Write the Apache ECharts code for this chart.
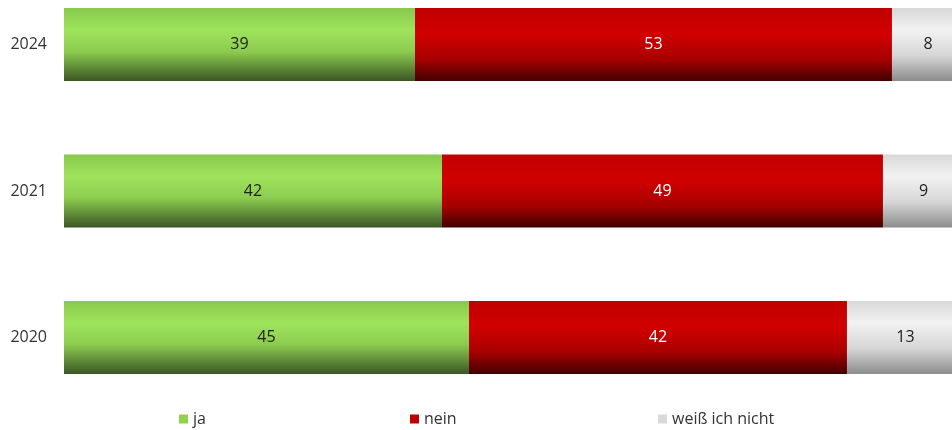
<!DOCTYPE html>
<html><head><meta charset="utf-8">
<script src="https://cdn.jsdelivr.net/npm/echarts@6/dist/echarts.min.js"></script>
<style>html,body{margin:0;padding:0;background:#fff}#c{width:952px;height:430px}</style>
</head><body><div id="c"></div>
<script>
const years = ['2024', '2021', '2020'];
const ja = [39, 42, 45];
const nein = [53, 49, 42];
const weiss = [8, 9, 13];
const names = ['ja', 'nein', 'weiß ich nicht'];

const G = echarts.graphic.LinearGradient;
const font = '"Open Sans", "Noto Sans", sans-serif';
const chart = echarts.init(document.getElementById('c'));
function grad(stops){ return new G(0,0,0,1, stops.map((c)=>({offset:c[0], color:c[1]}))); }
const gGreen = grad([[0,'#88c94c'],[0.3,'#9fe45c'],[0.6,'#8ccb4f'],[1,'#3a5524']]);
const gRed = grad([[0,'#c00000'],[0.35,'#d20000'],[0.7,'#a80000'],[1,'#420000']]);
const gGray = grad([[0,'#d8d8d8'],[0.3,'#f2f2f2'],[0.65,'#d6d6d6'],[1,'#8c8c8c']]);
const lbl = (col) => ({show:true, position:'inside', color:col, fontSize:16, fontFamily:font});
const legTxt = {fontSize:16, color:'#333', fontFamily:font};
chart.setOption({
  animation:false,
  grid:{left:64, right:0, top:44.5, bottom:92.5, containLabel:false},
  xAxis:{type:'value', min:0, max:98.67, show:false},
  yAxis:{type:'category', data:years, inverse:true, boundaryGap:false,
    axisLine:{show:false}, axisTick:{show:false}, splitLine:{show:false},
    axisLabel:{margin:17, fontSize:16, color:'#333', fontFamily:font}},
  legend:[
    {data:[{name:names[0], itemStyle:{color:'#92d050'}}], left:174, top:406, icon:'rect', itemWidth:9, itemHeight:9, textStyle:legTxt},
    {data:[{name:names[1], itemStyle:{color:'#c00000'}}], left:405, top:406, icon:'rect', itemWidth:9, itemHeight:9, textStyle:legTxt},
    {data:[{name:names[2], itemStyle:{color:'#d9d9d9'}}], left:653, top:406, icon:'rect', itemWidth:9, itemHeight:9, textStyle:legTxt}
  ],
  series:[
    {name:names[0], type:'bar', stack:'s', data:ja, barWidth:73, clip:false, itemStyle:{color:gGreen}, label:lbl('#222')},
    {name:names[1], type:'bar', stack:'s', data:nein, barWidth:73, clip:false, itemStyle:{color:gRed}, label:lbl('#fff')},
    {name:names[2], type:'bar', stack:'s', data:weiss, barWidth:73, clip:false, itemStyle:{color:gGray}, label:lbl('#222')}
  ]
});
</script></body></html>
